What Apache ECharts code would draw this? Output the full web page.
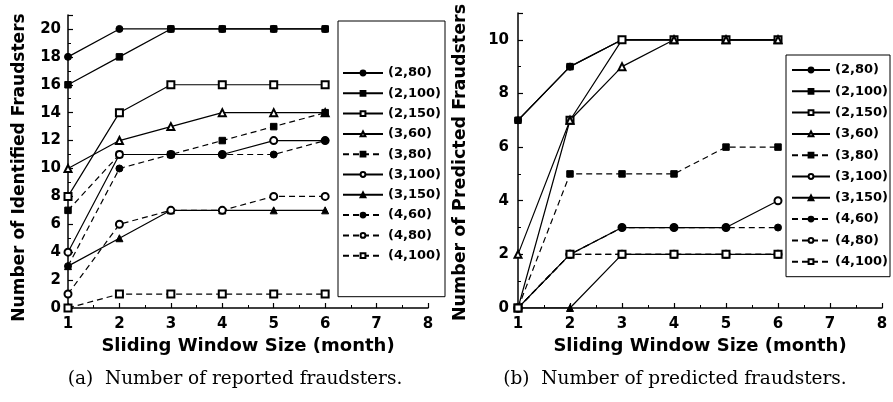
<!DOCTYPE html>
<html>
<head>
<meta charset="utf-8">
<script src="https://cdn.jsdelivr.net/npm/echarts@6/dist/echarts.min.js"></script>
<style>html,body{margin:0;padding:0;background:#fff}#c{width:893px;height:402px}</style>
</head>
<body>
<div id="c"></div>
<script>
// ---- data ----
const windowSizes = [1, 2, 3, 4, 5, 6];
const seriesNames = ['(2,80)', '(2,100)', '(2,150)', '(3,60)', '(3,80)', '(3,100)', '(3,150)', '(4,60)', '(4,80)', '(4,100)'];

// (a) reported fraudsters
const rep_2_80  = [18, 20, 20, 20, 20, 20];
const rep_2_100 = [16, 18, 20, 20, 20, 20];
const rep_2_150 = [8, 14, 16, 16, 16, 16];
const rep_3_60  = [10, 12, 13, 14, 14, 14];
const rep_3_80  = [7, 11, 11, 12, 13, 14];
const rep_3_100 = [4, 11, 11, 11, 12, 12];
const rep_3_150 = [3, 5, 7, 7, 7, 7];
const rep_4_60  = [3, 10, 11, 11, 11, 12];
const rep_4_80  = [1, 6, 7, 7, 8, 8];
const rep_4_100 = [0, 1, 1, 1, 1, 1];

// (b) predicted fraudsters
const pred_2_80  = [7, 9, 10, 10, 10, 10];
const pred_2_100 = [7, 9, 10, 10, 10, 10];
const pred_2_150 = [0, 7, 10, 10, 10, 10];
const pred_3_60  = [2, 7, 9, 10, 10, 10];
const pred_3_80  = [0, 5, 5, 5, 6, 6];
const pred_3_100 = [0, 2, 3, 3, 3, 4];
const pred_3_150 = [0, 0, 2, 2, 2, 2];
const pred_4_60  = [0, 2, 3, 3, 3, 3];
const pred_4_80  = [0, 2, 2, 2, 2, 2];
const pred_4_100 = [0, 2, 2, 2, 2, 2];

const captionA = '(a)  Number of reported fraudsters.';
const captionB = '(b)  Number of predicted fraudsters.';
const yTitleA = 'Number of Identified Fraudsters';
const yTitleB = 'Number of Predicted Fraudsters';
const xTitle = 'Sliding Window Size (month)';

// ---- styles ----
const symbolList = ['circle', 'rect', 'emptyRect', 'emptyTriangle', 'rect', 'emptyCircle', 'triangle', 'circle', 'emptyCircle', 'emptyRect'];
const dashedList = [false, false, false, false, true, false, false, true, true, true];
const repData = [rep_2_80, rep_2_100, rep_2_150, rep_3_60, rep_3_80, rep_3_100, rep_3_150, rep_4_60, rep_4_80, rep_4_100];
const predData = [pred_2_80, pred_2_100, pred_2_150, pred_3_60, pred_3_80, pred_3_100, pred_3_150, pred_4_60, pred_4_80, pred_4_100];

const FONT = '"DejaVu Sans", sans-serif';

function mkSeries(arr, idx) {
  return arr.map((vals, i) => ({
    name: seriesNames[i],
    type: 'line',
    xAxisIndex: idx, yAxisIndex: idx,
    data: vals.map((v, j) => [windowSizes[j], v]),
    symbol: symbolList[i],
    symbolSize: symbolList[i].indexOf('rect') >= 0 ? 6.5 : 7,
    showAllSymbol: true,
    itemStyle: { color: '#000', borderColor: '#000', borderWidth: 1 },
    lineStyle: { color: '#000', width: 1.2, type: dashedList[i] ? [6, 4] : 'solid' },
    emphasis: { disabled: true },
    animation: false
  }));
}

function xAxis(idx) {
  return {
    gridIndex: idx, type: 'value', min: 1, max: 8, interval: 1,
    name: xTitle, nameLocation: 'middle', nameGap: 27,
    nameTextStyle: { fontFamily: FONT, fontWeight: 'bold', fontSize: 18, color: '#000' },
    axisLine: { onZero: false, lineStyle: { color: '#000', width: 1.5 } },
    axisTick: { inside: true, length: 5, lineStyle: { color: '#000', width: 1.2 } },
    minorTick: { show: true, splitNumber: 2, length: 3, lineStyle: { color: '#000', width: 1 } },
    axisLabel: { fontFamily: FONT, fontWeight: 'bold', fontSize: 15, color: '#000', margin: 9 },
    splitLine: { show: false }
  };
}
function yAxis(idx, max, name, gap, margin, size, shift) {
  return {
    gridIndex: idx, type: 'value', min: 0, max: max, interval: 2,
    name: name, nameLocation: 'middle', nameGap: gap,
    nameTextStyle: { fontFamily: FONT, fontWeight: 'bold', fontSize: size, color: '#000', padding: [0, shift, 0, 0] },
    axisLine: { onZero: false, lineStyle: { color: '#000', width: 1.5 } },
    axisTick: { inside: true, length: 5, lineStyle: { color: '#000', width: 1.2 } },
    minorTick: { show: true, splitNumber: 2, length: 3, lineStyle: { color: '#000', width: 1 } },
    axisLabel: { fontFamily: FONT, fontWeight: 'bold', fontSize: 15, color: '#000', margin: margin,
      formatter: v => (v % 2 === 0 ? String(v) : '') },
    splitLine: { show: false }
  };
}
function legend(left, top, padding, gap, iconW) {
  return {
    data: seriesNames, orient: 'vertical', left: left, top: top,
    padding: padding, itemGap: gap, itemWidth: iconW, itemHeight: 6,
    borderColor: '#000', borderWidth: 1, backgroundColor: '#fff',
    selectedMode: false,
    textStyle: { fontFamily: FONT, fontWeight: 'bold', fontSize: 13, lineHeight: 14, color: '#000' }
  };
}

const chart = echarts.init(document.getElementById('c'), null, { renderer: 'canvas' });
chart.setOption({
  backgroundColor: '#fff',
  animation: false,
  title: [
    { text: captionA, left: 230, top: 365, textAlign: 'center',
      textStyle: { fontFamily: '"DejaVu Serif", serif', fontWeight: 'normal', fontSize: 18.5, color: '#000' } },
    { text: captionB, left: 670, top: 365, textAlign: 'center',
      textStyle: { fontFamily: '"DejaVu Serif", serif', fontWeight: 'normal', fontSize: 18.5, color: '#000' } }
  ],
  grid: [
    { left: 68, right: 465, top: 15, bottom: 94 },
    { left: 518, right: 11, top: 13, bottom: 94 }
  ],
  xAxis: [xAxis(0), xAxis(1)],
  yAxis: [yAxis(0, 21, yTitleA, 40, 7, 17, 12), yAxis(1, 11, yTitleB, 49, 9, 17.5, 4)],
  legend: [legend(338, 21, [45, 4, 34, 4], 6.3, 40), legend(786, 55, [8, 2, 8, 5], 7.3, 38)],
  series: mkSeries(repData, 0).concat(mkSeries(predData, 1))
});
</script>
</body>
</html>
